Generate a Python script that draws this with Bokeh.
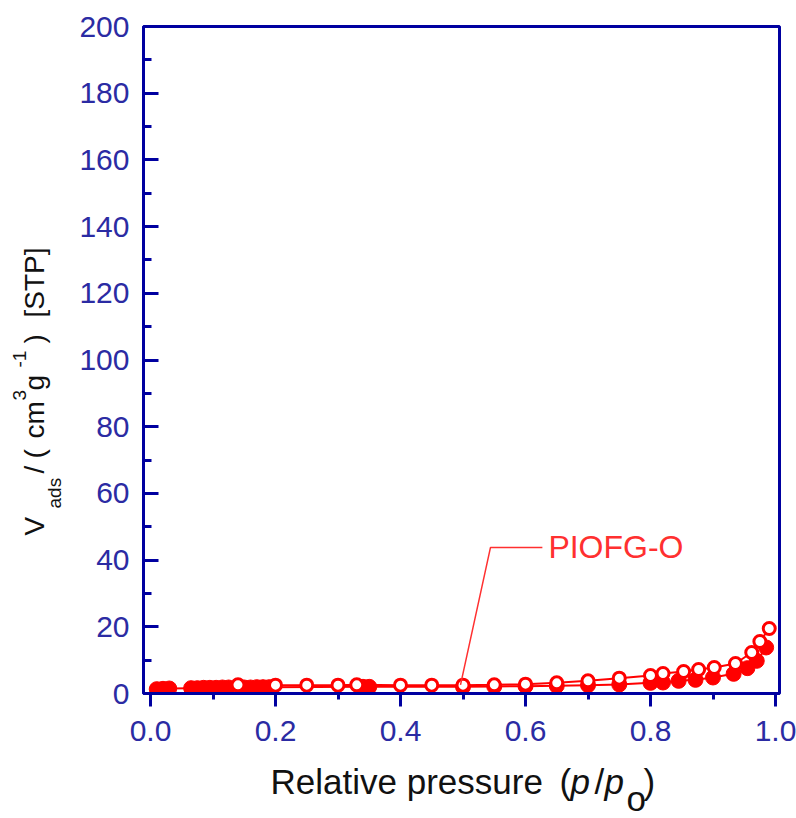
from math import pi
from bokeh.plotting import figure
from bokeh.layouts import row, column
from bokeh.models import Range1d, FixedTicker, Label, NumeralTickFormatter
from bokeh.core.properties import value
from bokeh.embed import file_html
from bokeh.resources import INLINE

# ---------------- data ----------------
ads_p = [0.01, 0.02, 0.03, 0.065, 0.075, 0.085, 0.095, 0.105, 0.115, 0.125,
         0.15, 0.16, 0.17, 0.18, 0.19, 0.34, 0.35, 0.5, 0.55, 0.6, 0.65, 0.7,
         0.75, 0.8, 0.82, 0.845, 0.872, 0.9, 0.933, 0.955, 0.97, 0.985]
ads_v = [1.3, 1.4, 1.5, 1.6, 1.6, 1.7, 1.7, 1.7, 1.8, 1.8,
         1.8, 1.8, 1.9, 1.9, 1.9, 2.0, 2.0, 2.0, 2.1, 2.2, 2.3, 2.5,
         2.7, 3.2, 3.3, 3.8, 4.1, 4.8, 5.9, 7.6, 9.8, 13.8]
des_p = [0.99, 0.975, 0.962, 0.936, 0.902, 0.877, 0.853, 0.82, 0.8, 0.75,
         0.7, 0.65, 0.6, 0.55, 0.5, 0.45, 0.4, 0.33, 0.3, 0.25, 0.2, 0.14]
des_v = [19.5, 15.6, 12.3, 9.0, 7.8, 7.2, 6.6, 6.0, 5.4, 4.6,
         3.8, 3.2, 2.8, 2.6, 2.5, 2.5, 2.5, 2.6, 2.5, 2.5, 2.5, 2.6]
x_ticks = [0.0, 0.2, 0.4, 0.6, 0.8, 1.0]
x_minor = [0.1, 0.3, 0.5, 0.7, 0.9]
y_ticks = [0, 20, 40, 60, 80, 100, 120, 140, 160, 180, 200]
y_minor = [10, 30, 50, 70, 90, 110, 130, 150, 170, 190]
sample_name = "PIOFG-O"
leader_x = [0.496, 0.544, 0.627]
leader_y = [2.6, 43.8, 43.8]

# ---------------- layout ----------------
W, H = 796, 818
LEFT_W = 70            # strip holding the y-axis title
MAIN_H = 760           # main figure height; the rest holds the x-axis title
FL, FR, FT, FB = 143, 779, 26, 693   # frame edges in page pixels
X0, X1 = -0.0112, 1.0064
Y0, Y1 = 0, 200
AX = "#0000a0"
TICKLAB = "#2b2ba3"
RED = "#ff0000"
FONT = "Liberation Sans"
TXT = "#111111"

p = figure(width=W - LEFT_W, height=MAIN_H, output_backend="svg",
           toolbar_location=None, title=None,
           x_range=Range1d(X0, X1), y_range=Range1d(Y0, Y1),
           min_border_left=FL - LEFT_W, min_border_right=W - FR,
           min_border_top=FT, min_border_bottom=MAIN_H - FB)
p.xgrid.visible = False
p.ygrid.visible = False
p.background_fill_color = "white"
p.border_fill_color = "white"
p.outline_line_color = AX
p.outline_line_width = 3

xa = p.xaxis[0]
xa.ticker = FixedTicker(ticks=x_ticks, minor_ticks=x_minor)
xa.formatter = NumeralTickFormatter(format="0.0")
xa.axis_line_color = AX
xa.axis_line_width = 3
xa.major_tick_line_color = AX
xa.major_tick_line_width = 3
xa.minor_tick_line_color = AX
xa.minor_tick_line_width = 3
xa.major_tick_in = 0
xa.major_tick_out = 13
xa.minor_tick_in = 0
xa.minor_tick_out = 6
xa.major_label_text_font = FONT
xa.major_label_text_font_size = "30px"
xa.major_label_text_color = TICKLAB
xa.major_label_standoff = 14

ya = p.yaxis[0]
ya.ticker = FixedTicker(ticks=y_ticks, minor_ticks=y_minor)
ya.axis_line_color = AX
ya.axis_line_width = 3
ya.major_tick_line_color = AX
ya.major_tick_line_width = 3
ya.minor_tick_line_color = AX
ya.minor_tick_line_width = 3
ya.major_tick_in = 15
ya.major_tick_out = 0
ya.minor_tick_in = 8
ya.minor_tick_out = 0
ya.major_label_text_font = FONT
ya.major_label_text_font_size = "30px"
ya.major_label_text_color = TICKLAB
ya.major_label_standoff = 14

# ---------------- data glyphs ----------------
p.line(ads_p, ads_v, line_color=RED, line_width=2)
p.line(des_p, des_v, line_color=RED, line_width=2)
p.scatter(ads_p, ads_v, marker="circle", size=15, fill_color=RED,
          line_color=RED, line_width=1)
p.scatter(des_p, des_v, marker="circle", size=12, fill_color="white",
          line_color=RED, line_width=3)

# annotation
p.line(leader_x, leader_y, line_color="#ff3030", line_width=1.5)
p.add_layout(Label(x=leader_x[-1], y=leader_y[-1], x_offset=6,
                   text=sample_name, text_font=FONT,
                   text_font_size="32px", text_color="#ff3030",
                   text_baseline="middle", text_align="left"))


def text_strip(w, h, x_lo, x_hi, bl=0, br=0):
    f = figure(width=w, height=h, output_backend="svg", toolbar_location=None,
               title=None, x_range=Range1d(x_lo, x_hi), y_range=Range1d(0, h),
               x_axis_type=None, y_axis_type=None,
               min_border_left=bl, min_border_right=br,
               min_border_top=0, min_border_bottom=0)
    f.xgrid.visible = False
    f.ygrid.visible = False
    f.outline_line_color = None
    f.background_fill_color = "white"
    f.border_fill_color = "white"
    return f


def piece(f, text, x, py, size, top, angle=0.0, style="normal"):
    # py: page pixels from the top; converted to the strip's own y
    f.text(x=[x], y=[top + f.height - py], text=[text], angle=angle,
           text_font=value(FONT), text_font_size=value(size),
           text_font_style=style, text_color=TXT,
           text_align="left", text_baseline="alphabetic")


# y axis title strip: V_ads/(cm^3 g^-1) [STP] (rotated, reading upward)
ys = text_strip(LEFT_W, H, 0, LEFT_W)
A = pi / 2
for t, px, py, sz in [("V", 34, 535, "28px"), ("ads", 54, 508, "19px"),
                      ("/", 34, 473, "28px"), ("(", 34, 458, "28px"),
                      ("cm", 34, 438, "28px"), ("3", 19, 400, "19px"),
                      ("g", 34, 390, "28px"), ("-1", 19, 367, "19px"),
                      (")", 34, 343, "28px"), ("[STP]", 34, 317, "28px")]:
    piece(ys, t, px, py, sz, 0, angle=A)

# x axis title strip: Relative pressure (p/p_o); x in page pixels
xs = text_strip(W - LEFT_W, H - MAIN_H, FL, FR,
                bl=FL - LEFT_W, br=W - FR)
for t, px, py, st in [("Relative pressure", 270, 781, "normal"),
                      ("(", 559, 781, "normal"), ("p", 570, 781, "italic"),
                      ("/", 594, 781, "normal"), ("p", 604, 781, "italic"),
                      ("o", 626, 798, "normal"), (")", 643, 781, "normal")]:
    piece(xs, t, px, py, "35px", MAIN_H, style=st)

layout = row(ys, column(p, xs, spacing=0), spacing=0)

open("out.html", "w").write(file_html(layout, INLINE))
